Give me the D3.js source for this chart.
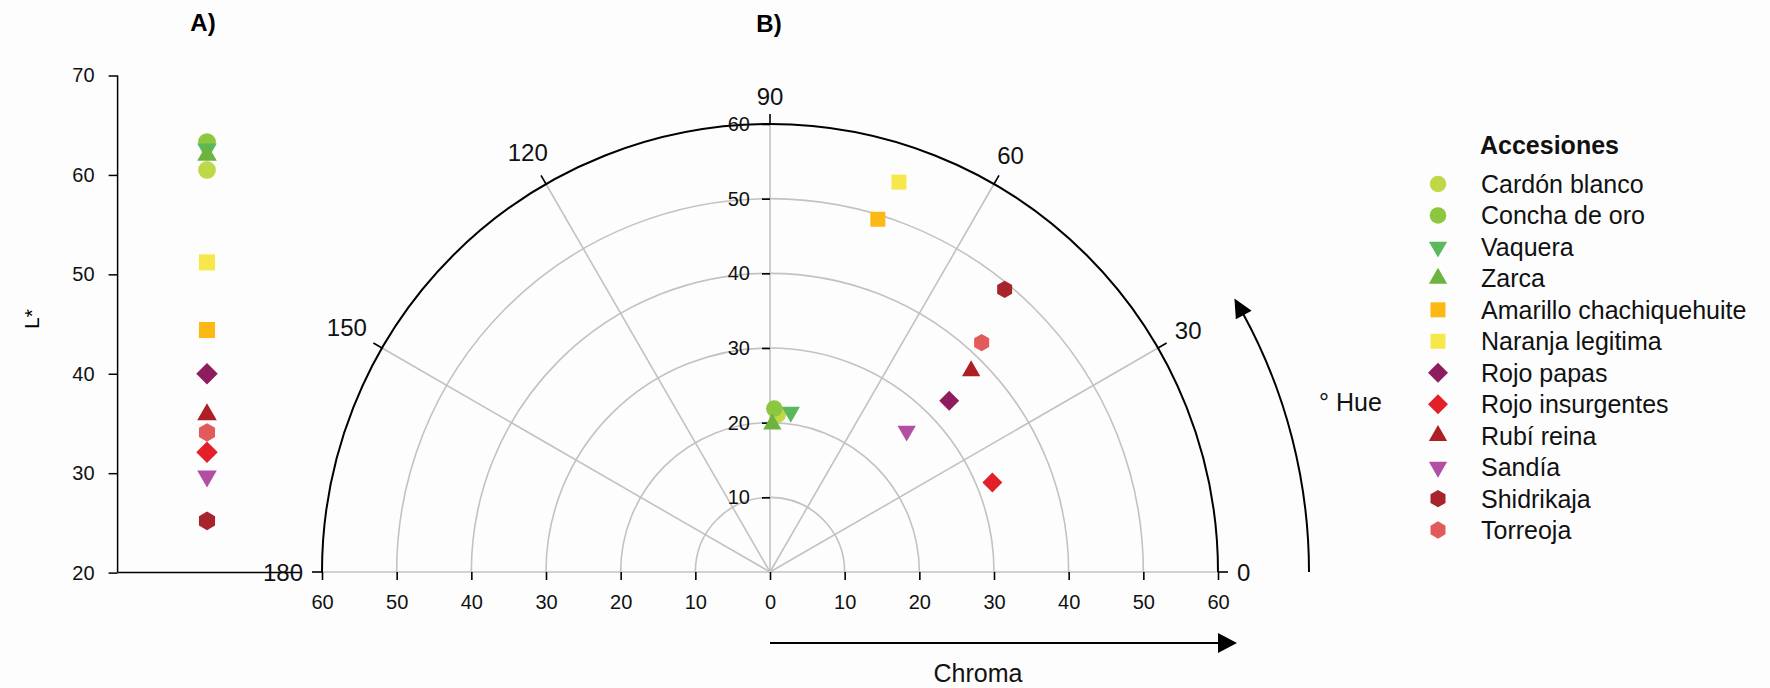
<!DOCTYPE html>
<html>
<head>
<meta charset="utf-8">
<script src="https://cdn.jsdelivr.net/npm/d3@7"></script>
<style>
  html, body { margin: 0; padding: 0; background: #fdfdfd; }
  svg { display: block; font-family: "Liberation Sans", Arial, sans-serif; }
</style>
</head>
<body>
<svg id="chart" width="1770" height="688"></svg>
<script>
// Accessions and their colour coordinates (CIE L*C*h)
const accessions = ["Cardón blanco", "Concha de oro", "Vaquera", "Zarca",
  "Amarillo chachiquehuite", "Naranja legitima", "Rojo papas", "Rojo insurgentes",
  "Rubí reina", "Sandía", "Shidrikaja", "Torreoja"];
const lightness = [60.5, 63.3, 62.6, 62.0, 44.4, 51.2, 40.0, 32.1, 35.9, 29.7, 25.2, 34.1];
const chroma    = [21.1, 21.9, 21.6, 19.8, 49.4, 55.0, 33.2, 32.1, 38.1, 26.3, 49.2, 41.8];
const hue       = [87.2, 88.5, 82.6, 89.1, 73.0, 71.7, 43.7, 21.9, 45.0, 45.9, 50.3, 47.3];
const colors = ["#bfd84a", "#8dc63f", "#5cb85c", "#6db33f", "#fdb913", "#f6e84b",
  "#8e1d5f", "#e3202a", "#ad1f24", "#b24fa4", "#a8242d", "#e15b5b"];
const shapes = ["circle", "circle", "triangleDown", "triangleUp", "square", "square",
  "diamond", "diamond", "triangleUp", "triangleDown", "hexagon", "hexagon"];

// Tick values
const lightnessTicks = [20, 30, 40, 50, 60, 70];
const chromaTicks = [10, 20, 30, 40, 50, 60];
const chromaAxisTicks = [-60, -50, -40, -30, -20, -10, 0, 10, 20, 30, 40, 50, 60];
const hueTicks = [0, 30, 60, 90, 120, 150, 180];

const svg = d3.select("#chart");
const FONT = "'Liberation Sans', Arial, sans-serif";

// ---------- marker symbols ----------
const symbolHexagon = {
  draw(ctx, size) {
    const r = Math.sqrt(2 * size / (3 * Math.sqrt(3)));
    for (let i = 0; i < 6; i++) {
      const a = (-90 + 60 * i) * Math.PI / 180;
      const x = r * Math.cos(a), y = r * Math.sin(a);
      if (i === 0) ctx.moveTo(x, y); else ctx.lineTo(x, y);
    }
    ctx.closePath();
  }
};
function markerPath(shape, k) {
  switch (shape) {
    case "circle": return d3.symbol(d3.symbolCircle, 215 * k)();
    case "square": return d3.symbol(d3.symbolSquare, 225 * k)();
    case "diamond": return d3.symbol(d3.symbolSquare, 200 * k)();
    case "triangleUp":
    case "triangleDown": return d3.symbol(d3.symbolTriangle, 145 * k)();
    case "hexagon": return d3.symbol(symbolHexagon, 195 * k)();
  }
}
function markerRotation(shape) {
  if (shape === "diamond") return 45;
  if (shape === "triangleDown") return 180;
  return 0;
}
function drawMarker(g, i, x, y, k = 1) {
  g.append("path")
    .attr("d", markerPath(shapes[i], k))
    .attr("transform", `translate(${x},${y}) rotate(${markerRotation(shapes[i])})`)
    .attr("fill", colors[i]);
}

// ---------- Panel A: lightness ----------
const gA = svg.append("g");
const yL = d3.scaleLinear().domain([20, 70]).range([572.6, 75.5]);
const axA = 117.6;
const axisL = d3.axisLeft(yL).tickValues(lightnessTicks).tickSize(9).tickPadding(14);
gA.append("g").attr("transform", `translate(${axA},0)`).call(axisL)
  .call(g => g.select(".domain").attr("stroke", "#000").attr("stroke-width", 1.5).attr("d", `M0,${yL(70)}V${yL(20)}`))
  .call(g => g.selectAll(".tick line").attr("stroke", "#000").attr("stroke-width", 1.5))
  .call(g => g.selectAll("text").attr("font-size", 20).attr("font-family", FONT).attr("fill", "#111"));
gA.append("line").attr("x1", axA).attr("x2", 300).attr("y1", yL(20)).attr("y2", yL(20))
  .attr("stroke", "#000").attr("stroke-width", 1.5);
gA.append("text").attr("transform", `translate(39,319) rotate(-90)`)
  .attr("text-anchor", "middle").attr("font-size", 21).attr("font-family", FONT).text("L*");
gA.append("text").attr("x", 203).attr("y", 31).attr("text-anchor", "middle")
  .attr("font-size", 24).attr("font-weight", "bold").attr("font-family", FONT).text("A)");
accessions.forEach((d, i) => drawMarker(gA, i, 207, yL(lightness[i]), 1.15));

// ---------- Panel B: chroma / hue polar plot ----------
const cx = 770, cy = 572, R = 448;
const rScale = d3.scaleLinear().domain([0, 60]).range([0, R]);
const gB = svg.append("g");
const rad = deg => deg * Math.PI / 180;
const px = (h, c) => cx + rScale(c) * Math.cos(rad(h));
const py = (h, c) => cy - rScale(c) * Math.sin(rad(h));
const GRID = "#c2c2c2";

// grid semicircles
const arc = d3.arc().startAngle(-Math.PI / 2).endAngle(Math.PI / 2);
chromaTicks.filter(t => t < 60).forEach(t => {
  gB.append("path")
    .attr("d", arc({ innerRadius: rScale(t), outerRadius: rScale(t) }))
    .attr("transform", `translate(${cx},${cy})`)
    .attr("fill", "none").attr("stroke", GRID).attr("stroke-width", 1.6);
});
// spokes
hueTicks.forEach(h => {
  gB.append("line").attr("x1", cx).attr("y1", cy).attr("x2", px(h, 60)).attr("y2", py(h, 60))
    .attr("stroke", GRID).attr("stroke-width", 1.6);
});
// outer boundary
gB.append("path")
  .attr("d", arc({ innerRadius: R, outerRadius: R }))
  .attr("transform", `translate(${cx},${cy})`)
  .attr("fill", "none").attr("stroke", "#000").attr("stroke-width", 2);
// hue ticks and labels: each label sits a fixed gap beyond its tick
const tickLen = 10, labelGap = 9, labelSize = 24;
hueTicks.forEach(h => {
  const a = rad(h);
  gB.append("line")
    .attr("x1", cx + R * Math.cos(a)).attr("y1", cy - R * Math.sin(a))
    .attr("x2", cx + (R + tickLen) * Math.cos(a)).attr("y2", cy - (R + tickLen) * Math.sin(a))
    .attr("stroke", "#000").attr("stroke-width", 1.6);
  const w = String(h).length * 0.556 * labelSize, hgt = 0.72 * labelSize;
  const dist = R + tickLen + labelGap + Math.abs(Math.cos(a)) * w / 2 + Math.abs(Math.sin(a)) * hgt / 2;
  gB.append("text")
    .attr("x", cx + dist * Math.cos(a)).attr("y", cy - dist * Math.sin(a))
    .attr("text-anchor", "middle").attr("dominant-baseline", "central")
    .attr("font-size", labelSize).attr("font-family", FONT).attr("fill", "#111").text(h);
});

// chroma axis along the vertical (90°) spoke
const yC = d3.scaleLinear().domain([0, 60]).range([cy, cy - R]);
gB.append("g").attr("transform", `translate(${cx},0)`)
  .call(d3.axisLeft(yC).tickValues(chromaTicks).tickSize(8).tickPadding(12))
  .call(g => g.select(".domain").remove())
  .call(g => g.selectAll(".tick line").attr("stroke", "#000").attr("stroke-width", 1.6))
  .call(g => g.selectAll("text").attr("font-size", 20).attr("font-family", FONT).attr("fill", "#111"));

// chroma axis along the baseline
const xC = d3.scaleLinear().domain([-60, 60]).range([cx - R, cx + R]);
gB.append("g").attr("transform", `translate(0,${cy})`)
  .call(d3.axisBottom(xC).tickValues(chromaAxisTicks).tickSize(8).tickPadding(15).tickFormat(d => Math.abs(d)))
  .call(g => g.select(".domain").remove())
  .call(g => g.selectAll(".tick line").attr("stroke", "#000").attr("stroke-width", 1.6))
  .call(g => g.selectAll("text").attr("font-size", 20).attr("font-family", FONT).attr("fill", "#111"));

// chroma arrow
gB.append("line").attr("x1", cx).attr("x2", 1220).attr("y1", 643).attr("y2", 643)
  .attr("stroke", "#000").attr("stroke-width", 2);
gB.append("path").attr("d", "M1218,633L1237,643L1218,653Z").attr("fill", "#000");
gB.append("text").attr("x", 978).attr("y", 682).attr("text-anchor", "middle")
  .attr("font-size", 25).attr("font-family", FONT).attr("fill", "#111").text("Chroma");

// hue arrow
const hueR = 539;
const arrowEnd = 30.5, arrowLen = 19, arrowHalf = 9;
const endLine = arrowEnd - (arrowLen - 2) / hueR * 180 / Math.PI;
gB.append("path")
  .attr("d", d3.arc()({ innerRadius: hueR, outerRadius: hueR, startAngle: Math.PI / 2, endAngle: Math.PI / 2 - rad(endLine) }))
  .attr("transform", `translate(${cx},${cy})`)
  .attr("fill", "none").attr("stroke", "#000").attr("stroke-width", 2);
{
  const tA = rad(arrowEnd), bA = tA - arrowLen / hueR;
  const tip = [cx + hueR * Math.cos(tA), cy - hueR * Math.sin(tA)];
  const b1 = [cx + (hueR + arrowHalf) * Math.cos(bA), cy - (hueR + arrowHalf) * Math.sin(bA)];
  const b2 = [cx + (hueR - arrowHalf) * Math.cos(bA), cy - (hueR - arrowHalf) * Math.sin(bA)];
  gB.append("path").attr("d", `M${tip}L${b1}L${b2}Z`).attr("fill", "#000");
}
gB.append("text").attr("x", 1319).attr("y", 411)
  .attr("font-size", 25).attr("font-family", FONT).attr("fill", "#111").text("° Hue");

gB.append("text").attr("x", 769).attr("y", 32).attr("text-anchor", "middle")
  .attr("font-size", 24).attr("font-weight", "bold").attr("font-family", FONT).text("B)");

// data points
accessions.forEach((d, i) => drawMarker(gB, i, px(hue[i], chroma[i]), py(hue[i], chroma[i])));

// ---------- Legend ----------
const gL = svg.append("g");
gL.append("text").attr("x", 1480).attr("y", 154).attr("font-size", 25)
  .attr("font-weight", "bold").attr("font-family", FONT).attr("fill", "#111").text("Accesiones");
const legendY = d3.scalePoint().domain(accessions).range([184, 530]);
accessions.forEach((d, i) => {
  const y = legendY(d);
  drawMarker(gL, i, 1438, y);
  gL.append("text").attr("x", 1481).attr("y", y + 9).attr("font-size", 25)
    .attr("font-family", FONT).attr("fill", "#111").text(d);
});
</script>
</body>
</html>
